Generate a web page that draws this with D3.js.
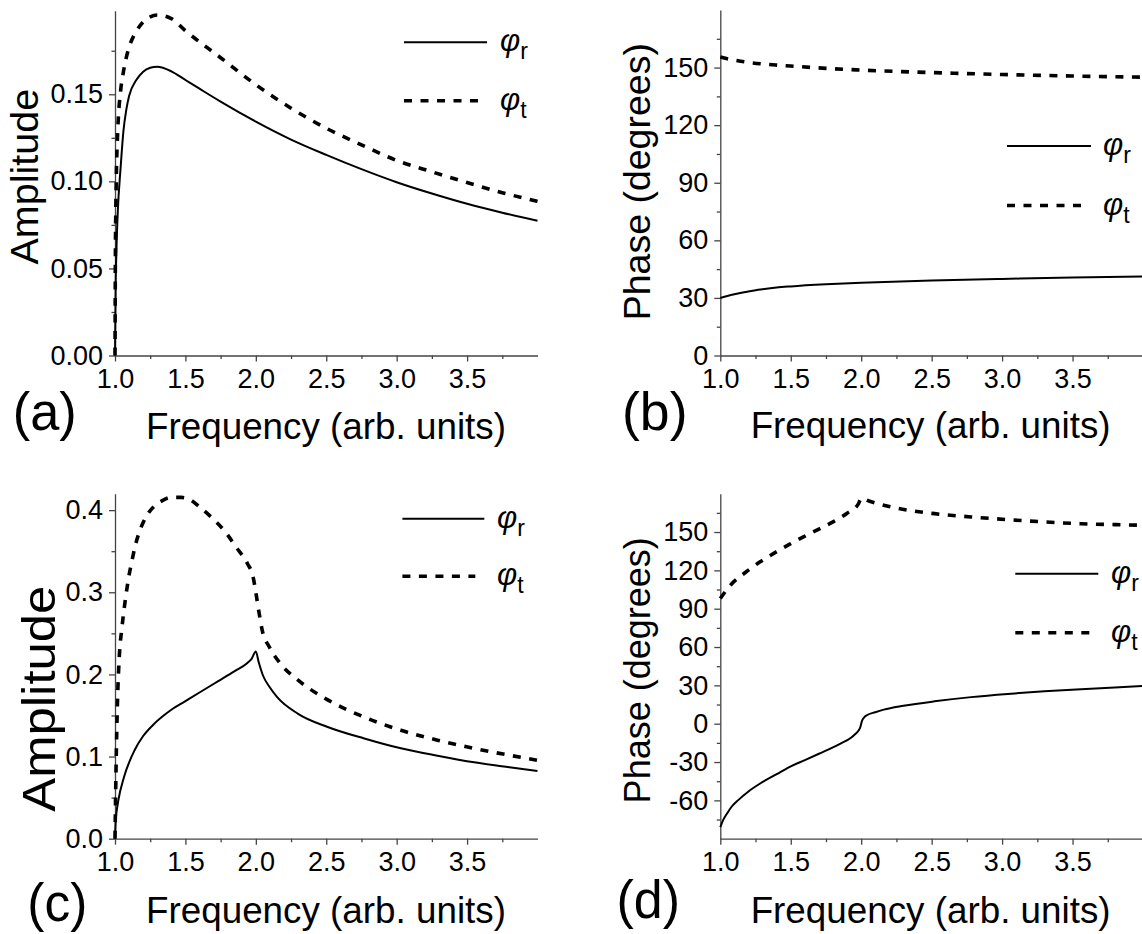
<!DOCTYPE html>
<html><head><meta charset="utf-8">
<script src="https://cdn.jsdelivr.net/npm/d3@7/dist/d3.min.js"></script>
<style>
body{margin:0;background:#fff;}
svg{display:block;font-family:"Liberation Sans",Arial,Helvetica,sans-serif;}
</style></head><body>
<svg id="c" width="1142" height="934"></svg>
<script>
// ---------- data ----------
const xTickValues = [1.0, 1.5, 2.0, 2.5, 3.0, 3.5];
const xMinorValues = [1.25, 1.75, 2.25, 2.75, 3.25, 3.75];
const yTicksA = [0, 0.05, 0.10, 0.15];
const yMinorA = [0.025, 0.075, 0.125, 0.175];
const yTicksB = [0, 30, 60, 90, 120, 150];
const yMinorB = [15, 45, 75, 105, 135, 165];
const yTicksC = [0, 0.1, 0.2, 0.3, 0.4];
const yMinorC = [0.05, 0.15, 0.25, 0.35];
const yTicksD = [-60, -30, 0, 30, 60, 90, 120, 150];
const yMinorD = [-75, -45, -15, 15, 45, 75, 105, 135, 165];
const legendNames = ["r", "t"];
const panelLetters = ["(a)", "(b)", "(c)", "(d)"];

// (a) amplitude, case 1
const freqA_r = [1.0, 1.005, 1.01, 1.02, 1.04, 1.06, 1.08, 1.1, 1.15, 1.2, 1.25, 1.3, 1.4, 1.5, 1.6, 1.75, 2.0, 2.25, 2.5, 2.75, 3.0, 3.25, 3.5, 3.75, 4.0];
const ampA_r  = [0, 0.042, 0.06, 0.083, 0.108, 0.129, 0.141, 0.149, 0.158, 0.163, 0.1652, 0.1658, 0.1632, 0.1582, 0.1532, 0.1458, 0.1343, 0.1240, 0.1152, 0.1070, 0.0995, 0.0930, 0.0871, 0.0820, 0.0774];
const freqA_t = [1.0, 1.003, 1.006, 1.01, 1.02, 1.04, 1.06, 1.08, 1.1, 1.15, 1.2, 1.25, 1.3, 1.4, 1.5, 1.75, 2.0, 2.25, 2.5, 2.75, 3.0, 3.25, 3.5, 3.75, 4.0];
const ampA_t  = [0, 0.06, 0.085, 0.105, 0.13, 0.152, 0.163, 0.171, 0.177, 0.186, 0.1915, 0.1945, 0.1955, 0.1935, 0.1865, 0.171, 0.1555, 0.142, 0.1305, 0.121, 0.112, 0.1055, 0.0993, 0.0935, 0.0885];

// (b) phase, case 1
const freqB = [1.0, 1.05, 1.1, 1.2, 1.3, 1.4, 1.5, 1.75, 2.0, 2.5, 3.0, 3.5, 4.0];
const phaseB_r = [30, 31.0, 31.9, 33.4, 34.5, 35.4, 36.0, 37.1, 37.9, 39.1, 39.9, 40.6, 41.1];
const phaseB_t = [155.5, 154.6, 153.9, 152.7, 151.9, 151.3, 150.8, 149.6, 148.7, 147.4, 146.4, 145.6, 145.0];

// (c) amplitude, case 2
const freqC_r = [1.0, 1.005, 1.01, 1.024, 1.064, 1.14, 1.2, 1.27, 1.35, 1.4, 1.5, 1.6, 1.73, 1.85, 1.94, 1.97, 2.0, 2.02, 2.05, 2.1, 2.15, 2.3, 2.51, 2.77, 3.03, 3.29, 3.55, 3.8, 4.0];
const ampC_r  = [0, 0.022, 0.031, 0.047, 0.075, 0.108, 0.125, 0.1385, 0.1505, 0.157, 0.1675, 0.178, 0.1915, 0.204, 0.214, 0.219, 0.228, 0.215, 0.199, 0.184, 0.1726, 0.152, 0.136, 0.122, 0.110, 0.101, 0.093, 0.087, 0.0825];
const freqC_t = [1.0, 1.005, 1.01, 1.02, 1.03, 1.05, 1.075, 1.1, 1.12, 1.14, 1.17, 1.2, 1.24, 1.28, 1.33, 1.4, 1.47, 1.53, 1.6, 1.68, 1.79, 1.86, 1.94, 1.98, 2.0, 2.02, 2.045, 2.097, 2.175, 2.3, 2.51, 2.77, 3.03, 3.29, 3.55, 4.0];
const ampC_t  = [0, 0.06, 0.11, 0.18, 0.22, 0.258, 0.293, 0.321, 0.338, 0.354, 0.372, 0.385, 0.397, 0.405, 0.411, 0.4155, 0.4155, 0.413, 0.404, 0.392, 0.372, 0.355, 0.335, 0.319, 0.30, 0.278, 0.254, 0.233, 0.213, 0.193, 0.169, 0.148, 0.132, 0.12, 0.110, 0.0955];

// (d) phase, case 2
const freqD_r = [1.0, 1.02, 1.047, 1.08, 1.125, 1.2, 1.28, 1.4, 1.49, 1.6, 1.7, 1.85, 1.93, 1.96, 1.98, 1.994, 2.0, 2.007, 2.02, 2.04, 2.1, 2.16, 2.3, 2.52, 2.78, 3.04, 3.3, 3.56, 3.8, 4.0];
const phaseD_r = [-81, -75.5, -70.4, -65, -60, -53, -47, -39.5, -33.9, -28.5, -23.5, -15.7, -10.8, -7.8, -5.5, -2.6, 0, 2.6, 4.8, 6.6, 9, 11, 14, 17.5, 20.8, 23.3, 25.3, 27.0, 28.4, 29.5];
const freqD_t = [1.0, 1.077, 1.18, 1.28, 1.39, 1.49, 1.59, 1.70, 1.80, 1.90, 1.98, 2.0, 2.05, 2.19, 2.52, 2.78, 3.04, 3.30, 3.56, 3.8, 4.0];
const phaseD_t = [98, 109, 118.5, 126.5, 134, 140.3, 146.2, 152.3, 158, 164.7, 172, 176.5, 174.5, 170.2, 164.4, 161.8, 159.7, 157.9, 156.5, 155.8, 155.3];

// ---------- drawing ----------
const svg = d3.select("#c");
const AXIS_COLOR = "#444";
const TICK_FS = 27;

function drawPanel(cfg) {
  const x = d3.scaleLinear().domain([1, 4]).range([cfg.xl, cfg.xr]);
  const y = d3.scaleLinear().domain(cfg.yDom).range([cfg.yb, cfg.yt]);
  const g = svg.append("g");

  // minor ticks
  g.append("g").attr("transform", `translate(0,${cfg.yb})`)
    .call(d3.axisBottom(x).tickValues(xMinorValues).tickSize(3.5).tickFormat(""))
    .call(s => s.select(".domain").remove());
  g.append("g").attr("transform", `translate(${cfg.xl},0)`)
    .call(d3.axisLeft(y).tickValues(cfg.yMinor.filter(v => v <= cfg.yDom[1])).tickSize(3.5).tickFormat(""))
    .call(s => s.select(".domain").remove());

  // major axes
  const xa = g.append("g").attr("transform", `translate(0,${cfg.yb})`)
    .call(d3.axisBottom(x).tickValues(xTickValues).tickFormat(d3.format(".1f"))
      .tickSize(6).tickSizeOuter(0).tickPadding(7.3));
  const ya = g.append("g").attr("transform", `translate(${cfg.xl},0)`)
    .call(d3.axisLeft(y).tickValues(cfg.yTicks).tickFormat(cfg.yFmt)
      .tickSize(6).tickSizeOuter(0).tickPadding(6));
  [xa, ya].forEach(a => {
    a.selectAll("text").attr("font-size", TICK_FS).attr("fill", "#000")
      .attr("font-family", "Liberation Sans, Arial, sans-serif");
  });
  g.selectAll("path.domain, g.tick line").attr("stroke", AXIS_COLOR).attr("stroke-width", 1.3);

  // curves
  const line = d3.line().x(d => x(d[0])).y(d => y(d[1])).curve(d3.curveMonotoneX);
  g.append("path").datum(d3.zip(cfg.fr, cfg.vr)).attr("d", line)
    .attr("fill", "none").attr("stroke", "#000").attr("stroke-width", 2);
  g.append("path").datum(d3.zip(cfg.ft, cfg.vt)).attr("d", line)
    .attr("fill", "none").attr("stroke", "#000").attr("stroke-width", 3.6)
    .attr("stroke-dasharray", "8,8.5");

  // legend
  const L = cfg.leg;
  [0, 1].forEach(i => {
    const ly = L.ys[i];
    g.append("line").attr("x1", L.x1).attr("x2", i === 0 ? L.x2 : L.x2 - 9)
      .attr("y1", ly).attr("y2", ly).attr("stroke", "#000")
      .attr("stroke-width", i === 0 ? 2 : 3.6)
      .attr("stroke-dasharray", i === 0 ? null : "8,8.5");
    const t = g.append("text").attr("x", L.tx).attr("y", ly + 9).attr("font-size", 31);
    t.append("tspan").attr("font-style", "italic").text("φ");
    t.append("tspan").attr("font-size", 23).attr("dy", 8).text(legendNames[i]);
  });

  // axis titles
  g.append("text").attr("x", cfg.xt.cx).attr("y", cfg.xt.by).attr("text-anchor", "middle")
    .attr("font-size", 36.8).text("Frequency (arb. units)");
  const yt = g.append("text").attr("transform", `translate(${cfg.yt2.bx},${cfg.yt2.cy}) rotate(-90)`)
    .attr("text-anchor", "middle").attr("font-size", cfg.yt2.fs)
    .text(cfg.yLabel);
  if (cfg.yt2.len) yt.attr("textLength", cfg.yt2.len).attr("lengthAdjust", "spacingAndGlyphs");

  // panel letter
  g.append("text").attr("x", cfg.pl.x).attr("y", cfg.pl.y).attr("font-size", cfg.pl.fs)
    .attr("textLength", cfg.pl.len).attr("lengthAdjust", "spacingAndGlyphs")
    .text(cfg.letter);
}

const f2 = d3.format(".2f"), f1 = d3.format(".1f"), fi = d => String(d);

drawPanel({
  xl: 115, xr: 537.5, yb: 355.5, yt: 10.7, yDom: [0, 0.198],
  yTicks: yTicksA, yMinor: yMinorA, yFmt: f2,
  fr: freqA_r, vr: ampA_r, ft: freqA_t, vt: ampA_t,
  leg: { x1: 404, x2: 487, ys: [42.3, 100.7], tx: 500 },
  xt: { cx: 326, by: 439 },
  yt2: { bx: 37.5, cy: 176.7, fs: 39.5 },
  yLabel: "Amplitude",
  pl: { x: 12.7, y: 430, fs: 54, len: 64 }, letter: panelLetters[0]
});
drawPanel({
  xl: 720.3, xr: 1143, yb: 355.5, yt: 10, yDom: [0, 180],
  yTicks: yTicksB, yMinor: yMinorB, yFmt: fi,
  fr: freqB, vr: phaseB_r, ft: freqB, vt: phaseB_t,
  leg: { x1: 1007, x2: 1091, ys: [146, 205.5], tx: 1103 },
  xt: { cx: 930.6, by: 437.5 },
  yt2: { bx: 649.5, cy: 181.7, fs: 37.5 },
  yLabel: "Phase (degrees)",
  pl: { x: 622, y: 430, fs: 54, len: 65.5 }, letter: panelLetters[1]
});
drawPanel({
  xl: 115, xr: 537.5, yb: 838.7, yt: 493.7, yDom: [0, 0.42],
  yTicks: yTicksC, yMinor: yMinorC, yFmt: f1,
  fr: freqC_r, vr: ampC_r, ft: freqC_t, vt: ampC_t,
  leg: { x1: 402.4, x2: 484.3, ys: [518.7, 576.3], tx: 497 },
  xt: { cx: 326, by: 922.5 },
  yt2: { bx: 55, cy: 698.7, fs: 47, len: 226 },
  yLabel: "Amplitude",
  pl: { x: 27.3, y: 920.5, fs: 53, len: 60 }, letter: panelLetters[2]
});
drawPanel({
  xl: 720.3, xr: 1143, yb: 838.7, yt: 493.7, yDom: [-90, 180],
  yTicks: yTicksD, yMinor: yMinorD, yFmt: fi,
  fr: freqD_r, vr: phaseD_r, ft: freqD_t, vt: phaseD_t,
  leg: { x1: 1015.3, x2: 1098.3, ys: [573.7, 632.7], tx: 1111 },
  xt: { cx: 930.6, by: 923 },
  yt2: { bx: 649.5, cy: 670.3, fs: 36 },
  yLabel: "Phase (degrees)",
  pl: { x: 616.5, y: 917.5, fs: 53, len: 63.5 }, letter: panelLetters[3]
});
</script>
</body></html>
